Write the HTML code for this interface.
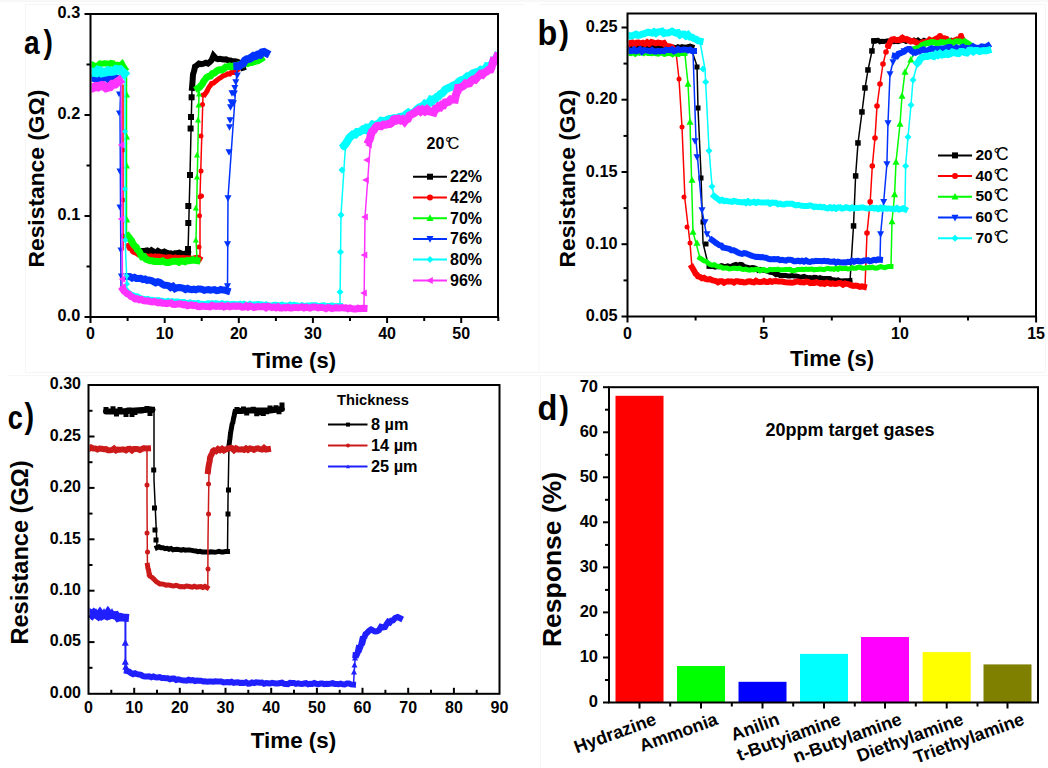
<!DOCTYPE html>
<html><head><meta charset="utf-8"><title>Figure</title>
<style>html,body{margin:0;padding:0;background:#fff;} svg{display:block;} text{font-family:'Liberation Sans', sans-serif;}</style>
</head><body>
<svg width="1048" height="768" viewBox="0 0 1048 768">
<defs><clipPath id="clipA"><rect x="91.5" y="15" width="405.5" height="301"/></clipPath><clipPath id="clipB"><rect x="628.5" y="14.5" width="406.5" height="301"/></clipPath><clipPath id="clipC"><rect x="89.5" y="386" width="409" height="306.5"/></clipPath></defs>
<rect x="0" y="0" width="1048" height="768" fill="#fff"/>
<rect x="0" y="0" width="1048" height="2" fill="#f8f8f8"/>
<line x1="25" y1="4.5" x2="525" y2="4.5" stroke="#f5f5f5" stroke-width="1"/>
<line x1="25.5" y1="5" x2="25.5" y2="372" stroke="#f6f6f6" stroke-width="1"/>
<line x1="539" y1="20" x2="539" y2="372" stroke="#f5f5f5" stroke-width="1"/>
<line x1="540" y1="4.5" x2="1045" y2="4.5" stroke="#f5f5f5" stroke-width="1"/>
<line x1="1045.5" y1="5" x2="1045.5" y2="372" stroke="#f5f5f5" stroke-width="1"/>
<line x1="25" y1="372.5" x2="1045" y2="372.5" stroke="#f5f5f5" stroke-width="1"/>
<line x1="7" y1="375.5" x2="1048" y2="375.5" stroke="#f7f7f7" stroke-width="1"/>
<line x1="540.5" y1="376" x2="540.5" y2="768" stroke="#f5f5f5" stroke-width="1"/>
<line x1="90.5" y1="317" x2="90.5" y2="323" stroke="#000" stroke-width="2"/>
<text x="90.5" y="339" font-size="16" font-weight="bold" text-anchor="middle" fill="#000" >0</text>
<line x1="127.6" y1="317" x2="127.6" y2="321" stroke="#000" stroke-width="2"/>
<line x1="164.7" y1="317" x2="164.7" y2="323" stroke="#000" stroke-width="2"/>
<text x="164.7" y="339" font-size="16" font-weight="bold" text-anchor="middle" fill="#000" >10</text>
<line x1="201.7" y1="317" x2="201.7" y2="321" stroke="#000" stroke-width="2"/>
<line x1="238.8" y1="317" x2="238.8" y2="323" stroke="#000" stroke-width="2"/>
<text x="238.8" y="339" font-size="16" font-weight="bold" text-anchor="middle" fill="#000" >20</text>
<line x1="275.9" y1="317" x2="275.9" y2="321" stroke="#000" stroke-width="2"/>
<line x1="312.9" y1="317" x2="312.9" y2="323" stroke="#000" stroke-width="2"/>
<text x="312.9" y="339" font-size="16" font-weight="bold" text-anchor="middle" fill="#000" >30</text>
<line x1="350" y1="317" x2="350" y2="321" stroke="#000" stroke-width="2"/>
<line x1="387.1" y1="317" x2="387.1" y2="323" stroke="#000" stroke-width="2"/>
<text x="387.1" y="339" font-size="16" font-weight="bold" text-anchor="middle" fill="#000" >40</text>
<line x1="424.2" y1="317" x2="424.2" y2="321" stroke="#000" stroke-width="2"/>
<line x1="461.2" y1="317" x2="461.2" y2="323" stroke="#000" stroke-width="2"/>
<text x="461.2" y="339" font-size="16" font-weight="bold" text-anchor="middle" fill="#000" >50</text>
<line x1="498.3" y1="317" x2="498.3" y2="321" stroke="#000" stroke-width="2"/>
<line x1="90.5" y1="317" x2="84.5" y2="317" stroke="#000" stroke-width="2"/>
<text x="80.2" y="321.4" font-size="16.3" font-weight="bold" text-anchor="end" fill="#000" >0.0</text>
<line x1="90.5" y1="266.5" x2="86.5" y2="266.5" stroke="#000" stroke-width="2"/>
<line x1="90.5" y1="216" x2="84.5" y2="216" stroke="#000" stroke-width="2"/>
<text x="80.2" y="220.4" font-size="16.3" font-weight="bold" text-anchor="end" fill="#000" >0.1</text>
<line x1="90.5" y1="165.5" x2="86.5" y2="165.5" stroke="#000" stroke-width="2"/>
<line x1="90.5" y1="115" x2="84.5" y2="115" stroke="#000" stroke-width="2"/>
<text x="80.2" y="119.4" font-size="16.3" font-weight="bold" text-anchor="end" fill="#000" >0.2</text>
<line x1="90.5" y1="64.5" x2="86.5" y2="64.5" stroke="#000" stroke-width="2"/>
<line x1="90.5" y1="14" x2="84.5" y2="14" stroke="#000" stroke-width="2"/>
<text x="80.2" y="18.4" font-size="16.3" font-weight="bold" text-anchor="end" fill="#000" >0.3</text>
<text x="294" y="367.5" font-size="22" font-weight="bold" text-anchor="middle" fill="#000" >Time (s)</text>
<text x="0" y="0" font-size="22.8" font-weight="bold" text-anchor="middle" fill="#000" transform="translate(44,178.5) rotate(-90)">Resistance (G&#937;)</text>
<text x="0" y="0" font-size="33.3" font-weight="bold" fill="#000" transform="translate(23.96,53.60) scale(0.844,1)">a</text>
<text x="0" y="0" font-size="33.9" font-weight="bold" fill="#000" transform="translate(43.60,52.60) scale(0.830,1)">)</text>
<g clip-path="url(#clipA)">
<path d="M143,250.9 L145.1,250.8 L147.2,250.4 L149.4,252.3 L151.5,250.3 L153.6,251.6 L155.8,252.7 L157.9,250.9 L160,252.1 L162.1,252.6 L164.3,251.5 L166.4,252.6 L168.6,253.6 L170.7,253.3 L172.9,254.3 L175,253.2 L177.2,253.2 L179.3,252.7 L181.5,253.5 L183.7,254.4 L185.8,253.4 L188,253.7" fill="none" stroke="#000000" stroke-width="6" stroke-linejoin="miter" stroke-miterlimit="2" stroke-linecap="square"/>
<path d="M188,253 L190,175 L192,88" fill="none" stroke="#000000" stroke-width="1.5" stroke-linejoin="round" stroke-linecap="round" />
<rect x="185.3" y="203" width="6" height="6" fill="#000000"/>
<rect x="185.3" y="220" width="6" height="6" fill="#000000"/>
<rect x="185" y="246" width="6" height="6" fill="#000000"/>
<rect x="187" y="172" width="6" height="6" fill="#000000"/>
<rect x="187.6" y="125.5" width="6" height="6" fill="#000000"/>
<rect x="188" y="114" width="6" height="6" fill="#000000"/>
<rect x="188.6" y="94.3" width="6" height="6" fill="#000000"/>
<path d="M192,87.9 L192.2,85.9 L192.3,84.2 L192.5,81.5 L192.7,79.3 L192.8,77.3 L193,74.6 L193.5,73 L194,71.2 L194.5,69.4 L195,66.5 L197,65.3 L199,63.5 L201.2,64.1 L203.5,63.7 L205.8,62.7 L208,63.6 L209.8,62.1 L211.5,60.2 L212.5,58.1 L213.5,55.6 L216,58.4 L218,59.2 L220,58.9 L222,59.2 L224,59.5 L226,59.4 L228.2,60.3 L230.4,60.5 L232.6,61.3 L234.8,61.2 L237,61.7 L239.5,62.7 L242,64.2 L242.5,65.9 L243,67.7" fill="none" stroke="#000000" stroke-width="6" stroke-linejoin="miter" stroke-miterlimit="2" stroke-linecap="square"/>
<path d="M123,85 L123,250" fill="none" stroke="#ff0000" stroke-width="1.5" stroke-linejoin="round" stroke-linecap="round" />
<circle cx="123" cy="150" r="2.5" fill="#ff0000"/>
<circle cx="123" cy="200" r="2.5" fill="#ff0000"/>
<circle cx="123" cy="236" r="2.5" fill="#ff0000"/>
<path d="M128,245.6 L129.5,248.4 L131,249 L132.5,251.5 L134,252.4 L136.2,253.2 L138.4,254.9 L140.6,254.4 L142.8,255.6 L145,255.9 L147,256 L149,256.2 L151,255.9 L153,256.9 L155,255.9 L157,256.2 L159,256 L161,256.5 L163,256.8 L165,257.6 L167,256.9 L169,256.7 L171,257 L173,258.1 L175,256.9 L177.1,257.7 L179.2,257.4 L181.2,257.9 L183.3,257.4 L185.4,258 L187.5,257.7 L189.6,258 L191.7,258.4 L193.8,258 L195.8,257.4 L197.9,257.3 L200,258.6" fill="none" stroke="#ff0000" stroke-width="5" stroke-linejoin="miter" stroke-miterlimit="2" stroke-linecap="square"/>
<path d="M200,258 L200,196 L203,95" fill="none" stroke="#ff0000" stroke-width="1.5" stroke-linejoin="round" stroke-linecap="round" />
<circle cx="198.8" cy="260.6" r="2.5" fill="#ff0000"/>
<circle cx="199" cy="247" r="2.5" fill="#ff0000"/>
<circle cx="199.5" cy="215.8" r="2.5" fill="#ff0000"/>
<circle cx="200" cy="196.7" r="2.5" fill="#ff0000"/>
<circle cx="201.5" cy="196" r="2.5" fill="#ff0000"/>
<circle cx="201" cy="171" r="2.5" fill="#ff0000"/>
<circle cx="201" cy="136" r="2.5" fill="#ff0000"/>
<circle cx="202.5" cy="104.6" r="2.5" fill="#ff0000"/>
<circle cx="203" cy="95" r="2.5" fill="#ff0000"/>
<path d="M204.8,94.4 L205.9,92.9 L207,91.2 L208.2,88.6 L209.3,86.6 L210.4,85.4 L211.5,83.5 L213.4,83.1 L215.3,81.5 L217.2,80 L219.1,78.6 L221,77.5 L223.2,75.7 L225.4,75.2 L227.6,73.8 L229.8,74.1 L232,71.8 L234.5,72.3 L237,70.3" fill="none" stroke="#ff0000" stroke-width="5" stroke-linejoin="miter" stroke-miterlimit="2" stroke-linecap="square"/>
<path d="M93,65 L95.3,66.2 L97.7,65.4 L100,63.4 L102.3,63.7 L104.7,63.2 L107,63.4 L109,64.3 L111,62.9 L113,63.3 L115,65.9 L117.3,64.8 L119.7,65.7 L122,63.7 L123.5,66.4 L125,68.6" fill="none" stroke="#00ff00" stroke-width="6" stroke-linejoin="miter" stroke-miterlimit="2" stroke-linecap="square"/>
<path d="M126.5,70 L126.5,238" fill="none" stroke="#00ff00" stroke-width="1.5" stroke-linejoin="round" stroke-linecap="round" />
<path d="M127,91.7 L130,97.4 L124,97.4Z" fill="#00ff00"/>
<path d="M127,133.7 L130,139.4 L124,139.4Z" fill="#00ff00"/>
<path d="M127,162.7 L130,168.4 L124,168.4Z" fill="#00ff00"/>
<path d="M127.3,216.7 L130.3,222.4 L124.3,222.4Z" fill="#00ff00"/>
<path d="M128,236.1 L129.2,237.6 L130.3,239.5 L131.5,240.5 L132.7,243.2 L133.8,244.9 L135,246.2 L136.2,247.1 L137.3,249.4 L138.5,250.7 L139.7,252.3 L140.8,255.1 L142,256.8 L144,256.5 L146,259.1 L148,259.9 L150,260.8 L152.1,260.7 L154.2,261.4 L156.2,261.2 L158.3,261.6 L160.4,261.7 L162.5,260.9 L164.6,262 L166.7,262.4 L168.8,262.5 L170.8,262 L172.9,261.2 L175,261.2 L177,261.2 L179,262.3 L181,261.1 L183,261.1 L185,261.7 L187,260.6 L189,260.8 L191,260.4 L193,259.7 L195,260.3 L197,260.6" fill="none" stroke="#00ff00" stroke-width="7" stroke-linejoin="miter" stroke-miterlimit="2" stroke-linecap="square"/>
<path d="M197,258 L196,240 L199,92" fill="none" stroke="#00ff00" stroke-width="1.5" stroke-linejoin="round" stroke-linecap="round" />
<path d="M195.8,236.7 L198.8,242.4 L192.8,242.4Z" fill="#00ff00"/>
<path d="M195.8,204.7 L198.8,210.4 L192.8,210.4Z" fill="#00ff00"/>
<path d="M197,173.7 L200,179.4 L194,179.4Z" fill="#00ff00"/>
<path d="M197,151.7 L200,157.4 L194,157.4Z" fill="#00ff00"/>
<path d="M198,116.7 L201,122.4 L195,122.4Z" fill="#00ff00"/>
<path d="M198.5,101.7 L201.5,107.4 L195.5,107.4Z" fill="#00ff00"/>
<path d="M199,90.7 L202,96.4 L196,96.4Z" fill="#00ff00"/>
<path d="M198,88.2 L199.4,87.3 L200.9,85.6 L202.3,84.1 L203.8,81.1 L205.2,79.4 L206.7,77.5 L208.6,76.4 L210.5,76.1 L212.4,73.6 L214.4,73.1 L216.3,71.2 L218.2,70.1 L220.1,69.7 L222,69.9 L223.9,68.8 L225.8,67 L227.7,66.9 L229.6,66 L231.5,66.8 L233.4,66.1 L235.3,65.4 L237.4,65.1 L239.4,64.6 L241.5,64.7 L243.6,64 L245.6,62.6 L247.7,63.4 L249.7,62.4 L251.8,62.5 L253.9,61.8 L255.9,61.2 L258,60.7 L261,58.9" fill="none" stroke="#00ff00" stroke-width="7" stroke-linejoin="miter" stroke-miterlimit="2" stroke-linecap="square"/>
<path d="M93,78.3 L95.3,79.1 L97.7,78.7 L100,79.3 L102,79.1 L104,77.5 L106,77.1 L108,79.1 L110,77.4 L112,77.3 L114,79.3 L116,77.9 L118,78.9" fill="none" stroke="#0033ff" stroke-width="7" stroke-linejoin="miter" stroke-miterlimit="2" stroke-linecap="square"/>
<path d="M121,78 L120,110 L121,290" fill="none" stroke="#0033ff" stroke-width="1.5" stroke-linejoin="round" stroke-linecap="round" />
<path d="M119,97.3 L122,91.6 L116,91.6Z" fill="#0033ff"/>
<path d="M119,116.3 L122,110.6 L116,110.6Z" fill="#0033ff"/>
<path d="M119.5,174.3 L122.5,168.6 L116.5,168.6Z" fill="#0033ff"/>
<path d="M119.5,210.3 L122.5,204.6 L116.5,204.6Z" fill="#0033ff"/>
<path d="M120.5,253.3 L123.5,247.6 L117.5,247.6Z" fill="#0033ff"/>
<path d="M121,279.3 L124,273.6 L118,273.6Z" fill="#0033ff"/>
<path d="M128,276.6 L130.1,276.7 L132.2,278.1 L134.4,277.3 L136.5,278.6 L138.6,278.6 L140.8,278.4 L142.9,279.6 L145,279.1 L147.1,280.3 L149.3,280 L151.4,280.5 L153.6,281.6 L155.7,282.8 L157.9,281.8 L160,282.4 L162.1,284 L164.3,285.3 L166.4,285.3 L168.6,285.7 L170.7,287.5 L172.9,286.4 L175,288.7 L177.1,287.7 L179.2,287.6 L181.2,287.7 L183.3,288.3 L185.4,289.5 L187.5,288.4 L189.6,289.3 L191.7,289.6 L193.8,289.2 L195.8,289.8 L197.9,289 L200,289.1 L202.1,289.4 L204.2,290.4 L206.2,289.9 L208.3,289.6 L210.4,290.2 L212.5,289.9 L214.5,289.6 L216.6,290.6 L218.7,290.4 L220.8,289.5 L222.8,290.1 L224.9,290.1 L227,290.8" fill="none" stroke="#0033ff" stroke-width="7" stroke-linejoin="miter" stroke-miterlimit="2" stroke-linecap="square"/>
<path d="M227.5,290 L228,198 L237,70" fill="none" stroke="#0033ff" stroke-width="1.5" stroke-linejoin="round" stroke-linecap="round" />
<path d="M227.5,289.9 L231,283.2 L224,283.2Z" fill="#0033ff"/>
<path d="M227.5,247.8 L231,241.2 L224,241.2Z" fill="#0033ff"/>
<path d="M228,201.8 L231.5,195.2 L224.5,195.2Z" fill="#0033ff"/>
<path d="M229,155.8 L232.5,149.2 L225.5,149.2Z" fill="#0033ff"/>
<path d="M229.5,130.8 L233,124.2 L226,124.2Z" fill="#0033ff"/>
<path d="M230,123.8 L233.5,117.2 L226.5,117.2Z" fill="#0033ff"/>
<path d="M230.5,110.8 L234,104.2 L227,104.2Z" fill="#0033ff"/>
<path d="M231,105.8 L234.5,99.2 L227.5,99.2Z" fill="#0033ff"/>
<path d="M232,96.8 L235.5,90.2 L228.5,90.2Z" fill="#0033ff"/>
<path d="M233.4,106.8 L236.9,100.2 L229.9,100.2Z" fill="#0033ff"/>
<path d="M234.3,97.2 L237.8,90.6 L230.8,90.6Z" fill="#0033ff"/>
<path d="M234.8,91.5 L238.3,84.9 L231.3,84.9Z" fill="#0033ff"/>
<path d="M235.8,85.8 L239.3,79.2 L232.3,79.2Z" fill="#0033ff"/>
<path d="M237.3,79.1 L240.8,72.5 L233.8,72.5Z" fill="#0033ff"/>
<path d="M237.3,66.1 L239.2,66 L241.2,64.4 L243.1,63.6 L245,60.5 L247.2,59.1 L249.4,58.9 L251.6,57.4 L253.7,55.8 L255.8,55.9 L257.9,54.5 L260,54.7 L262,52.4 L264,52 L266,53" fill="none" stroke="#0033ff" stroke-width="8" stroke-linejoin="miter" stroke-miterlimit="2" stroke-linecap="square"/>
<path d="M94,72.4 L96,72.7 L98,70.3 L100,70.8 L102,72.8 L104,72.4 L106,72 L108,70.8 L110,71.5 L112,71.3 L114,71 L116,69.5 L118,70 L120,69.7 L122,71.7 L124,73.5" fill="none" stroke="#00ffff" stroke-width="9" stroke-linejoin="miter" stroke-miterlimit="2" stroke-linecap="square"/>
<path d="M125,72 L125.5,250 L127,283" fill="none" stroke="#00ffff" stroke-width="1.5" stroke-linejoin="round" stroke-linecap="round" />
<path d="M125,128.5 L128,131.5 L125,134.5 L122,131.5Z" fill="#00ffff"/>
<path d="M125,186 L128,189 L125,192 L122,189Z" fill="#00ffff"/>
<path d="M125.3,237 L128.3,240 L125.3,243 L122.3,240Z" fill="#00ffff"/>
<path d="M126.5,273 L129.5,276 L126.5,279 L123.5,276Z" fill="#00ffff"/>
<path d="M127,281 L130,284 L127,287 L124,284Z" fill="#00ffff"/>
<path d="M125,289.1 L127,291.3 L129,293.4 L131,294.5 L133,295.3 L135,296.5 L137,296.4 L139.2,297.5 L141.3,298.5 L143.5,298.7 L145.7,299.5 L147.8,299 L150,300 L152,299.8 L154,300.3 L156,300.5 L158,300 L160,300.4 L162,300.6 L164,301.5 L166,301.4 L168,300.9 L170,301.8 L172,301.1 L174,301.8 L176,301.4 L178,301.4 L180,302.5 L182,301.9 L184,302 L186,303.1 L188,303.1 L190,302.5 L192,303.5 L194,303.1 L196,303.4 L198,303 L200,304 L202,303.8 L204,304.1 L206,304.1 L208,303.4 L210,303.5 L212,303.3 L214,303.4 L216,303.3 L218,303.6 L220,304 L222,303.3 L224,304.2 L226,303.8 L228,303.8 L230,304.5 L232,304.1 L234,304 L236,304.2 L238,304.5 L240,303.8 L242,304.9 L244,303.8 L246,304.7 L248,304.9 L250,303.9 L252,304.9 L254,304.4 L256,304.7 L258,304.1 L260,304.2 L262,304.4 L264,305.3 L266,304.5 L268,305.2 L270,305.4 L272,305.5 L274,304.8 L276,304.8 L278,305.1 L280,305.4 L282,304.7 L284,305.5 L286,305.6 L288,305.7 L290,304.7 L292,305.9 L294,304.9 L296,305.2 L298,305.6 L300,306 L302,305.3 L304,306.1 L306,305.6 L308,305.4 L310,305.4 L312,305.3 L314,305.2 L316,305.3 L318,306 L320,306.3 L322,305.4 L324,305.3 L326,306.4 L328,305.9 L330,305.8 L332,305.6 L334,306 L336,306.3 L338,305.9 L340,305.9" fill="none" stroke="#00ffff" stroke-width="6" stroke-linejoin="miter" stroke-miterlimit="2" stroke-linecap="square"/>
<path d="M340,304 L341,215 L346,138" fill="none" stroke="#00ffff" stroke-width="1.5" stroke-linejoin="round" stroke-linecap="round" />
<path d="M340,288.5 L343.5,292 L340,295.5 L336.5,292Z" fill="#00ffff"/>
<path d="M340.5,248.5 L344,252 L340.5,255.5 L337,252Z" fill="#00ffff"/>
<path d="M341,211.5 L344.5,215 L341,218.5 L337.5,215Z" fill="#00ffff"/>
<path d="M342,166.5 L345.5,170 L342,173.5 L338.5,170Z" fill="#00ffff"/>
<path d="M343,143.5 L346.5,147 L343,150.5 L339.5,147Z" fill="#00ffff"/>
<path d="M344.6,145 L345.9,143.4 L347.2,141.3 L348.4,139.4 L349.7,137.4 L351,136.1 L353.1,134.3 L355.1,134.5 L357.1,132 L359.2,132 L361.1,131 L363,129.4 L364.9,129.9 L366.7,127.7 L368.6,127.8 L370.5,127.2 L372.7,124.5 L374.8,125.4 L377,124.3 L379.2,123.2 L381.3,120.7 L383.5,121 L385.6,121 L387.7,119.7 L389.8,119 L391.8,118.8 L393.9,118.2 L396,119.1 L398.1,117.5 L400.1,116.9 L402.2,116.6 L404.2,116.6 L406.2,114.1 L408.2,112.7 L410.2,114.3 L412.3,113.1 L414.3,112.2 L416.1,110.4 L417.9,108.5 L419.7,107.2 L421.5,106.5 L423.4,105.9 L425.2,103.7 L427,104.3 L428.8,103.3 L430.6,100.3 L432.2,101.3 L433.8,99.2 L435.4,99.1 L437.1,96.7 L438.7,96.3 L440.3,94.2 L441.9,93.4 L443.5,91.9 L445.4,89.5 L447.2,88.7 L449.1,87.7 L450.9,87 L452.8,85.8 L454.6,85.1 L456.5,84.2 L458.4,82.2 L460.3,80.6 L462.2,79.8 L464.1,79.6 L466,77.8 L467.9,76.1 L470.2,75.9 L472.4,73.7 L474.7,72.7 L476.9,72 L479.2,71.4 L481.1,69.8 L483.1,70.2 L485,69.6 L487,66.3 L488.9,66.5 L490.5,65.5 L492.1,63.4 L493.8,60.2 L495.4,59.9 L497,56.4" fill="none" stroke="#00ffff" stroke-width="8" stroke-linejoin="miter" stroke-miterlimit="2" stroke-linecap="square"/>
<path d="M94,87.2 L96,86.5 L98,87 L100,86 L102,85.5 L104,86.3 L106,87.7 L108,87.1 L110,86.8 L112.5,84.2 L115,84.1 L117,82.3 L119,81" fill="none" stroke="#ff33ff" stroke-width="9" stroke-linejoin="miter" stroke-miterlimit="2" stroke-linecap="square"/>
<path d="M121,84 L121.5,130 L122.5,285" fill="none" stroke="#ff33ff" stroke-width="1.5" stroke-linejoin="round" stroke-linecap="round" />
<path d="M117.7,145 L124.3,141.5 L124.3,148.5Z" fill="#ff33ff"/>
<path d="M117.7,219 L124.3,215.5 L124.3,222.5Z" fill="#ff33ff"/>
<path d="M118.7,279 L125.3,275.5 L125.3,282.5Z" fill="#ff33ff"/>
<path d="M119.2,287 L125.8,283.5 L125.8,290.5Z" fill="#ff33ff"/>
<path d="M123,289.5 L124.3,291.2 L125.7,292.3 L127,293.6 L129,294.3 L131,296.5 L133,297.3 L135,298.9 L137.1,298.7 L139.3,299.8 L141.4,299.4 L143.6,300.7 L145.7,301 L147.9,300.9 L150,301.6 L152.1,302 L154.2,301.4 L156.2,302.2 L158.3,302.8 L160.4,302.2 L162.5,303.2 L164.6,303.3 L166.7,303.7 L168.8,303.1 L170.8,302.9 L172.9,304.3 L175,304.5 L177.1,304.1 L179.2,303.7 L181.2,304 L183.3,304.9 L185.4,304.5 L187.5,305.7 L189.6,305.3 L191.7,304.9 L193.8,305.7 L195.8,305.4 L197.9,306.5 L200,306.7 L202,306.1 L204,306.3 L206,306.4 L208,306.6 L210,306.9 L212,305.4 L214,306 L216,306.4 L218,306 L220,306.4 L222,305.7 L224,307 L226,306.4 L228,305.8 L230,306.7 L232,306.2 L234,306 L236,306.5 L238,306 L240,306.1 L242,307.2 L244,307 L246,305.9 L248,307.2 L250,306 L252,306.5 L254,307.5 L256,307 L258,306.6 L260,306.7 L262,306.8 L264,306.4 L266,307.8 L268,306.3 L270,306.9 L272,307.5 L274,306.9 L276,307.9 L278,306.8 L280,308 L282,307.9 L284,307.5 L286,307.9 L288,307.2 L290,307.9 L292,307.9 L294,307.4 L296,307.4 L298,307.8 L300,307.4 L302,306.9 L304,308 L306,307.2 L308,307.6 L310,308.1 L312,307.2 L314,307 L316,307.1 L318,307.9 L320,307.6 L322,307.5 L324,307.8 L326,308.6 L328,307.5 L330,307.8 L332,308.6 L334,308.2 L336,307.7 L338,308.1 L340,308.1 L342,307.6 L344,308 L346,307.9 L348,308.7 L350,308 L352,308.6 L354,309.1 L356,309.1 L358,308.2 L360,308.6 L362,308.2 L364,308.3" fill="none" stroke="#ff33ff" stroke-width="7" stroke-linejoin="miter" stroke-miterlimit="2" stroke-linecap="square"/>
<path d="M364,309 L365,217 L371,135" fill="none" stroke="#ff33ff" stroke-width="1.5" stroke-linejoin="round" stroke-linecap="round" />
<path d="M360.1,293 L366.8,289.5 L366.8,296.5Z" fill="#ff33ff"/>
<path d="M360.6,255 L367.3,251.5 L367.3,258.5Z" fill="#ff33ff"/>
<path d="M361.1,217 L367.8,213.5 L367.8,220.5Z" fill="#ff33ff"/>
<path d="M362.1,180 L368.8,176.5 L368.8,183.5Z" fill="#ff33ff"/>
<path d="M363.1,160 L369.8,156.5 L369.8,163.5Z" fill="#ff33ff"/>
<path d="M365.1,145 L371.8,141.5 L371.8,148.5Z" fill="#ff33ff"/>
<path d="M369,140.7 L369.6,139.5 L370.2,138 L370.8,134.3 L371.4,133.6 L372,131.5 L373.7,130.2 L375.4,127.5 L377,126 L378.7,125.7 L381.1,126.2 L383.5,124.5 L386,124.7 L388.4,123.8 L390,123.9 L391.6,122.9 L393.3,120.2 L394.9,120.5 L396.5,116.8 L398.5,119.5 L400.6,120.5 L402.6,119.4 L404.6,121.6 L406.2,119.6 L407.8,119 L409.5,115.5 L411.1,114.7 L412.7,114 L414.7,112.7 L416.6,111.2 L418.6,109.9 L420.5,111.5 L422.5,109.6 L424.8,111.3 L427,109.4 L429.3,111.5 L431.5,111.9 L433.8,112.5 L435.4,108.9 L437.1,108.6 L438.7,106.6 L440.3,107.2 L441.9,104.9 L443.6,105.2 L445.2,102.5 L446.8,102.3 L448.8,101.8 L450.9,99.3 L452.9,99.3 L454.9,99.6 L455.5,96.5 L456.2,94.2 L456.8,92 L457.5,91.4 L458.1,87.9 L460,87.9 L461.9,86.7 L463.8,85.6 L465.7,83.4 L467.6,83.7 L469.5,83.3 L471.4,80.6 L473.2,79.4 L475.1,79.8 L476.9,77.8 L478.8,75.8 L480.6,74 L482.5,74.8 L484.5,72.5 L486.6,71.6 L488.6,69.8 L490.6,69.5 L491.4,67.8 L492.2,64.7 L493,62 L493.8,62.4 L495.4,60.5 L497,56.6" fill="none" stroke="#ff33ff" stroke-width="8" stroke-linejoin="miter" stroke-miterlimit="2" stroke-linecap="square"/>
</g>
<text x="426.5" y="148.5" font-size="16" font-weight="bold" text-anchor="start" fill="#000" >20</text>
<text x="445" y="148.5" font-size="17" font-weight="normal" fill="#000">&#176;</text>
<text x="447.5" y="148.5" font-size="16.5" font-weight="normal" text-anchor="start" fill="#000" >C</text>
<line x1="413" y1="176.7" x2="447" y2="176.7" stroke="#000000" stroke-width="2"/>
<rect x="427" y="173.7" width="6" height="6" fill="#000000"/>
<text x="450" y="182.2" font-size="16" font-weight="bold" text-anchor="start" fill="#000" >22%</text>
<line x1="413" y1="197.4" x2="447" y2="197.4" stroke="#ff0000" stroke-width="2"/>
<circle cx="430" cy="197.4" r="3" fill="#ff0000"/>
<text x="450" y="202.9" font-size="16" font-weight="bold" text-anchor="start" fill="#000" >42%</text>
<line x1="413" y1="218.2" x2="447" y2="218.2" stroke="#00ff00" stroke-width="2"/>
<path d="M430,214.3 L433.5,221 L426.5,221Z" fill="#00ff00"/>
<text x="450" y="223.7" font-size="16" font-weight="bold" text-anchor="start" fill="#000" >70%</text>
<line x1="413" y1="238.9" x2="447" y2="238.9" stroke="#0033ff" stroke-width="2"/>
<path d="M430,242.7 L433.5,236.1 L426.5,236.1Z" fill="#0033ff"/>
<text x="450" y="244.4" font-size="16" font-weight="bold" text-anchor="start" fill="#000" >76%</text>
<line x1="413" y1="259.6" x2="447" y2="259.6" stroke="#00ffff" stroke-width="2"/>
<path d="M430,256.1 L433.5,259.6 L430,263.1 L426.5,259.6Z" fill="#00ffff"/>
<text x="450" y="265.1" font-size="16" font-weight="bold" text-anchor="start" fill="#000" >80%</text>
<line x1="413" y1="280.4" x2="447" y2="280.4" stroke="#ff33ff" stroke-width="2"/>
<path d="M426.1,280.4 L432.8,276.9 L432.8,283.9Z" fill="#ff33ff"/>
<text x="450" y="285.9" font-size="16" font-weight="bold" text-anchor="start" fill="#000" >96%</text>
<line x1="627.5" y1="316.5" x2="627.5" y2="322.5" stroke="#000" stroke-width="2"/>
<text x="627.5" y="338.5" font-size="16" font-weight="bold" text-anchor="middle" fill="#000" >0</text>
<line x1="695.6" y1="316.5" x2="695.6" y2="320.5" stroke="#000" stroke-width="2"/>
<line x1="763.7" y1="316.5" x2="763.7" y2="322.5" stroke="#000" stroke-width="2"/>
<text x="763.7" y="338.5" font-size="16" font-weight="bold" text-anchor="middle" fill="#000" >5</text>
<line x1="831.8" y1="316.5" x2="831.8" y2="320.5" stroke="#000" stroke-width="2"/>
<line x1="899.9" y1="316.5" x2="899.9" y2="322.5" stroke="#000" stroke-width="2"/>
<text x="899.9" y="338.5" font-size="16" font-weight="bold" text-anchor="middle" fill="#000" >10</text>
<line x1="968" y1="316.5" x2="968" y2="320.5" stroke="#000" stroke-width="2"/>
<line x1="1036.1" y1="316.5" x2="1036.1" y2="322.5" stroke="#000" stroke-width="2"/>
<text x="1036.1" y="338.5" font-size="16" font-weight="bold" text-anchor="middle" fill="#000" >15</text>
<line x1="627.5" y1="316.5" x2="621.5" y2="316.5" stroke="#000" stroke-width="2"/>
<text x="617.5" y="321.1" font-size="16.3" font-weight="bold" text-anchor="end" fill="#000" >0.05</text>
<line x1="627.5" y1="280.4" x2="623.5" y2="280.4" stroke="#000" stroke-width="2"/>
<line x1="627.5" y1="244.2" x2="621.5" y2="244.2" stroke="#000" stroke-width="2"/>
<text x="617.5" y="248.8" font-size="16.3" font-weight="bold" text-anchor="end" fill="#000" >0.10</text>
<line x1="627.5" y1="208.1" x2="623.5" y2="208.1" stroke="#000" stroke-width="2"/>
<line x1="627.5" y1="172" x2="621.5" y2="172" stroke="#000" stroke-width="2"/>
<text x="617.5" y="176.6" font-size="16.3" font-weight="bold" text-anchor="end" fill="#000" >0.15</text>
<line x1="627.5" y1="135.9" x2="623.5" y2="135.9" stroke="#000" stroke-width="2"/>
<line x1="627.5" y1="99.7" x2="621.5" y2="99.7" stroke="#000" stroke-width="2"/>
<text x="617.5" y="104.3" font-size="16.3" font-weight="bold" text-anchor="end" fill="#000" >0.20</text>
<line x1="627.5" y1="63.6" x2="623.5" y2="63.6" stroke="#000" stroke-width="2"/>
<line x1="627.5" y1="27.5" x2="621.5" y2="27.5" stroke="#000" stroke-width="2"/>
<text x="617.5" y="32.1" font-size="16.3" font-weight="bold" text-anchor="end" fill="#000" >0.25</text>
<text x="832" y="366" font-size="22" font-weight="bold" text-anchor="middle" fill="#000" >Time (s)</text>
<text x="0" y="0" font-size="22.8" font-weight="bold" text-anchor="middle" fill="#000" transform="translate(574.5,178.5) rotate(-90)">Resistance (G&#937;)</text>
<text x="0" y="0" font-size="34.4" font-weight="bold" fill="#000" transform="translate(537.50,44.50) scale(0.940,1)">b</text>
<text x="0" y="0" font-size="33.9" font-weight="bold" fill="#000" transform="translate(559.00,43.60) scale(0.880,1)">)</text>
<g clip-path="url(#clipB)">
<path d="M628,47.8 L630,47.9 L632,47.8 L634,46.2 L636,47.2 L638,46.8 L640,47.1 L642,46.3 L644,46.4 L646,46.9 L648,46.4 L650,46.9 L652,46 L654,46.2 L656,47.4 L658,46.8 L660,47 L662,47.5 L664,46.7 L666,46.1 L668,47.6 L670,47.2 L672,47.3 L674,47.2 L676,47.9 L678,46.7 L680,47.5 L682,46.7 L684,47.1 L686,47.3 L688,46.6 L690,46.2 L692,46.9" fill="none" stroke="#000000" stroke-width="5" stroke-linejoin="miter" stroke-miterlimit="2" stroke-linecap="square"/>
<path d="M691,48 L697,66 L698,108 L701,174 L703,243 L709,268" fill="none" stroke="#000000" stroke-width="1.5" stroke-linejoin="round" stroke-linecap="round" />
<rect x="694.5" y="64.5" width="5" height="5" fill="#000000"/>
<rect x="695.5" y="105.5" width="5" height="5" fill="#000000"/>
<rect x="698.5" y="175.5" width="5" height="5" fill="#000000"/>
<rect x="700.5" y="219.5" width="5" height="5" fill="#000000"/>
<rect x="703.5" y="241.5" width="5" height="5" fill="#000000"/>
<path d="M709,266.3 L711.1,266.4 L713.1,266.4 L715.2,267.2 L717.3,266.5 L719.3,266.7 L721.4,265.6 L723.5,266.1 L725.5,266.5 L727.6,265.8 L729.7,266.4 L731.7,266.1 L733.8,265.2 L735.9,264.5 L737.9,265.5 L740,264.4 L742,264.7 L744,266.4 L746,267 L748,267.5 L750,268.2 L752,267.5 L754,267.8 L756,268.4 L758,270.3 L760,269.4 L762,270 L764,270.2 L766,270.8 L768,271.3 L770,272.3 L772,272.5 L774,273.2 L776,274.7 L778,274 L780,275.5 L782,275.6 L784,275.5 L786,275.6 L788,276.1 L790,276 L792,275.6 L794,275.9 L796,276 L798,276.4 L800,277.5 L802,276.8 L804,276.4 L806,277.2 L808,277.9 L810,277.5 L812,278.1 L814,277.3 L816,277.4 L818,278.5 L820,277.7 L822,278.3 L824,278.6 L826,278.5 L828,278.4 L830,278.5 L832,280.2 L834,279.9 L836,280.5 L838,280 L840,280.9 L842,280.9 L844,280.7 L846,280.7 L848,280.8 L850,280.6" fill="none" stroke="#000000" stroke-width="5" stroke-linejoin="miter" stroke-miterlimit="2" stroke-linecap="square"/>
<path d="M850,281 L853.5,226 L855.6,176 L858,143 L862,112 L865,88 L868,70 L872,51 L874,41" fill="none" stroke="#000000" stroke-width="1.5" stroke-linejoin="round" stroke-linecap="round" />
<rect x="850.8" y="223.2" width="5.5" height="5.5" fill="#000000"/>
<rect x="852.9" y="173.2" width="5.5" height="5.5" fill="#000000"/>
<rect x="855.2" y="140.2" width="5.5" height="5.5" fill="#000000"/>
<rect x="859.2" y="109.2" width="5.5" height="5.5" fill="#000000"/>
<rect x="862.2" y="85.2" width="5.5" height="5.5" fill="#000000"/>
<rect x="865.2" y="67.2" width="5.5" height="5.5" fill="#000000"/>
<rect x="869.2" y="48.2" width="5.5" height="5.5" fill="#000000"/>
<rect x="871.2" y="38.2" width="5.5" height="5.5" fill="#000000"/>
<path d="M874,40.8 L876,40.5 L878,40.3 L880,41.8 L882,41.2 L884,41.4 L886,41.1 L888,40.8 L890,41.5 L892,41.2 L894,41.6 L896,41.3 L898,41.7 L900,40.9 L902,40.3 L904,40.3 L906,41.4 L908,40.3 L910,41.3 L912,41.2 L914,40.1 L916,41.6 L918,40.1 L920,41.7 L922,41.7 L924,40.4 L926,41.5 L928,41.5 L930,40.3 L932.1,41.3 L934.2,40.2 L936.3,41.8 L938.4,41.4 L940.5,42 L942.5,40.1 L944.6,40.6 L946.7,41.2 L948.8,41.2 L950.9,40.4 L953,41.8" fill="none" stroke="#000000" stroke-width="5" stroke-linejoin="miter" stroke-miterlimit="2" stroke-linecap="square"/>
<path d="M628,45.1 L630.1,43 L632.2,42.6 L634.4,44.8 L636.5,42.7 L638.6,42.5 L640.8,43.6 L642.9,42.8 L645,43.9 L647.1,42.2 L649.3,43.8 L651.4,42.1 L653.6,42.7 L655.7,43.3 L657.9,42.6 L660,43 L662,43.5 L664,42.9 L666,45.9 L668,46.2 L670,46.5 L672,47.3 L674,49.8 L676,50.2" fill="none" stroke="#ff0000" stroke-width="6" stroke-linejoin="miter" stroke-miterlimit="2" stroke-linecap="square"/>
<path d="M676,52 L679,79 L682,127 L685,200 L690,243 L692,268" fill="none" stroke="#ff0000" stroke-width="1.5" stroke-linejoin="round" stroke-linecap="round" />
<circle cx="679" cy="79" r="2.5" fill="#ff0000"/>
<circle cx="682" cy="127" r="2.5" fill="#ff0000"/>
<circle cx="684" cy="197" r="2.5" fill="#ff0000"/>
<circle cx="687" cy="227" r="2.5" fill="#ff0000"/>
<circle cx="690" cy="243" r="2.5" fill="#ff0000"/>
<path d="M692,267.2 L693.2,269.2 L694.4,271.4 L695.6,273.7 L696.8,274.6 L698,276.4 L700,277 L702,278.3 L704,277.8 L706,279.2 L708,279.5 L710,279.1 L712,280.2 L714,280.6 L716,281 L718,282.3 L720,281.3 L722,281.2 L724,282.7 L726,281.8 L728,281.4 L730,281.6 L732,281.6 L734,282.6 L736,281.3 L738,281.3 L740,281.9 L742,281.8 L744,282.4 L746,282.2 L748,281.4 L750,281.2 L752,282.1 L754,282.4 L756,280.8 L758,281.9 L760,282.1 L762,281.8 L764,281.1 L766,282 L768,282 L770,281.1 L772,281.9 L774,281.2 L776,281 L778,281.5 L780,281.5 L782,281.6 L784,282 L786,282.4 L788,282.6 L790,282.6 L792,282.7 L794,282.4 L796,281.6 L798,281.5 L800,282.2 L802,282.2 L804.1,282.5 L806.1,281.6 L808.2,281.9 L810.2,283.1 L812.3,282.7 L814.3,282.9 L816.4,282.1 L818.4,282.7 L820.5,283.6 L822.5,283.2 L824.5,283.9 L826.6,282.7 L828.6,283.2 L830.7,283.8 L832.7,283.4 L834.8,284 L836.8,283.7 L838.9,283.1 L840.9,283.2 L843,284.7 L845,283.4 L847.1,283.8 L849.2,284.4 L851.3,285.3 L853.4,285.9 L855.6,285.6 L857.7,286 L859.8,286.8 L861.9,286.3 L864,286.8" fill="none" stroke="#ff0000" stroke-width="6" stroke-linejoin="miter" stroke-miterlimit="2" stroke-linecap="square"/>
<path d="M865,287 L867,233 L870.2,201.7 L872.3,166 L875,138 L877,106 L880,84 L883,64 L886,52 L889,45" fill="none" stroke="#ff0000" stroke-width="1.5" stroke-linejoin="round" stroke-linecap="round" />
<circle cx="867" cy="233" r="2.8" fill="#ff0000"/>
<circle cx="870.2" cy="201.7" r="2.8" fill="#ff0000"/>
<circle cx="872.3" cy="166" r="2.8" fill="#ff0000"/>
<circle cx="875" cy="138" r="2.8" fill="#ff0000"/>
<circle cx="877" cy="106" r="2.8" fill="#ff0000"/>
<circle cx="880" cy="84" r="2.8" fill="#ff0000"/>
<circle cx="883" cy="64" r="2.8" fill="#ff0000"/>
<circle cx="886" cy="52" r="2.8" fill="#ff0000"/>
<path d="M888.7,45.3 L890.4,41.4 L892,39.5 L894.1,39.1 L896.3,40.2 L898.4,39.8 L900.6,40.1 L902.7,38 L904.7,39.4 L906.8,39.1 L908.8,40.2 L910.8,41.5 L913.1,40.9 L915.4,41.9 L917.7,43.5 L920,43.8 L922.4,42.4 L924.8,42.6 L927.1,42.4 L929.5,39.8 L931.6,41.1 L933.7,40.3 L935.8,38.8 L937.9,37.8 L940,39.1 L942.2,38.2 L944.3,38.2 L946.5,38.8 L948.6,41.2 L950.8,41.2 L952.9,41.1 L955.1,40.4 L957.2,39.3 L959.4,39.7 L961.5,37.7 L963,40.1" fill="none" stroke="#ff0000" stroke-width="6" stroke-linejoin="miter" stroke-miterlimit="2" stroke-linecap="square"/>
<circle cx="888" cy="46" r="3" fill="#ff0000"/>
<circle cx="892" cy="40" r="3" fill="#ff0000"/>
<circle cx="902" cy="38" r="3" fill="#ff0000"/>
<circle cx="908" cy="40" r="3" fill="#ff0000"/>
<circle cx="940" cy="36" r="3" fill="#ff0000"/>
<circle cx="961" cy="36" r="3" fill="#ff0000"/>
<circle cx="925" cy="42" r="3" fill="#ff0000"/>
<path d="M629,53.4 L631.1,53.7 L633.2,52.4 L635.3,54 L637.4,52.4 L639.5,53.3 L641.6,52.2 L643.7,53.5 L645.8,52.3 L647.9,53.4 L650,53.4 L652.1,53.6 L654.1,53 L656.2,53.9 L658.2,54.2 L660.3,52.5 L662.4,53.4 L664.4,54.3 L666.5,53.9 L668.5,53.4 L670.6,53.2 L672.6,54.6 L674.7,52.9 L676.8,54.3 L678.8,54.5 L680.9,53.2 L682.9,53.6 L685,53.6" fill="none" stroke="#00ff00" stroke-width="5" stroke-linejoin="miter" stroke-miterlimit="2" stroke-linecap="square"/>
<path d="M685,55 L688,84 L690,122 L693,232 L700,258" fill="none" stroke="#00ff00" stroke-width="1.5" stroke-linejoin="round" stroke-linecap="round" />
<path d="M688,80.2 L691.5,86.8 L684.5,86.8Z" fill="#00ff00"/>
<path d="M690,118.2 L693.5,124.8 L686.5,124.8Z" fill="#00ff00"/>
<path d="M692,176.2 L695.5,182.8 L688.5,182.8Z" fill="#00ff00"/>
<path d="M693,228.2 L696.5,234.8 L689.5,234.8Z" fill="#00ff00"/>
<path d="M697,239.2 L700.5,245.8 L693.5,245.8Z" fill="#00ff00"/>
<path d="M700,258.1 L702,259.4 L704,260.9 L706,261.2 L708,263 L710,264.6 L712.1,265.2 L714.3,264.6 L716.4,266 L718.6,266.5 L720.7,266.9 L722.9,268.2 L725,268 L727.1,268 L729.1,268.9 L731.2,268.6 L733.2,268.2 L735.3,268.3 L737.4,268.7 L739.4,268.1 L741.5,269.1 L743.5,269.4 L745.6,269.1 L747.6,269.8 L749.7,270.1 L751.8,269.6 L753.8,269.9 L755.9,269.2 L757.9,269.2 L760,270.8 L762,269.7 L764,269.5 L766,270.6 L768,270.4 L770,269.4 L772,269.7 L774,269.6 L776,269.6 L778,269.2 L780,270 L782,269.7 L784,269.8 L786,269.5 L788,269.4 L790,269.3 L792,270.6 L794,270.4 L796,270.1 L798,269.4 L800,269.4 L802,269.3 L804,269.6 L806,269.1 L808,269.4 L810,269.2 L812,269.1 L814,269.8 L816,269.4 L818,269.4 L820,269.1 L822,269.3 L824,269.7 L826,268.8 L828,268.4 L830,269 L832,268.7 L834,269.3 L836,268.2 L838,269.3 L840,267.9 L842,268.7 L844,268.4 L846,268.2 L848,269 L850,268.7 L852,267.7 L854,268.2 L856,268.3 L858,267.3 L860,267.3 L862.1,268.1 L864.1,268.2 L866.2,267.7 L868.3,267.6 L870.3,267.7 L872.4,267.2 L874.5,268.1 L876.5,268.2 L878.6,267.4 L880.7,266.6 L882.7,267.1 L884.8,267.7 L886.9,266.9 L888.9,266.4 L891,266.5" fill="none" stroke="#00ff00" stroke-width="5" stroke-linejoin="miter" stroke-miterlimit="2" stroke-linecap="square"/>
<path d="M891,267 L892,221.5 L894.6,194.4 L896,162 L900,124 L902,96 L905,72 L910.8,59.7 L917.4,47.7" fill="none" stroke="#00ff00" stroke-width="1.5" stroke-linejoin="round" stroke-linecap="round" />
<path d="M892,217.7 L895.5,224.3 L888.5,224.3Z" fill="#00ff00"/>
<path d="M894.6,190.6 L898.1,197.2 L891.1,197.2Z" fill="#00ff00"/>
<path d="M896,158.2 L899.5,164.8 L892.5,164.8Z" fill="#00ff00"/>
<path d="M900,120.2 L903.5,126.8 L896.5,126.8Z" fill="#00ff00"/>
<path d="M902,92.2 L905.5,98.8 L898.5,98.8Z" fill="#00ff00"/>
<path d="M905,68.2 L908.5,74.8 L901.5,74.8Z" fill="#00ff00"/>
<path d="M910.8,55.9 L914.3,62.5 L907.3,62.5Z" fill="#00ff00"/>
<path d="M915,48.8 L917.2,48.1 L919.5,47.9 L921.8,45.2 L924,44.3 L926.2,43.3 L928.3,43 L930.5,42.3 L932.6,42.1 L934.8,42.4 L936.9,43.6 L939,42.9 L941,42.1 L943.1,42.2 L945.2,42.9 L947.3,42 L949.3,41.4 L951.4,43.2 L953.5,42.7 L955.7,41.5 L958,41.4 L960.2,41.4 L962.4,43.5 L964.7,41.5 L966.9,42.7 L969,44.1" fill="none" stroke="#00ff00" stroke-width="6" stroke-linejoin="miter" stroke-miterlimit="2" stroke-linecap="square"/>
<path d="M628,49.7 L630,51.1 L632,51 L634,49.6 L636,51.3 L638,50.8 L640,49.4 L642,51.7 L644,50.1 L646,50.4 L648,50.7 L650,51.2 L652,50 L654,51.3 L656,51.6 L658,50.8 L660,51.4 L662,50.9 L664,51.3 L666,49.7 L668,50.1 L670,50.3 L672,49.3 L674,51.3 L676,50.5 L678,49.1 L680,50.2 L682,49.9 L684,49.5 L686,49.6 L688,50.5 L690,49.7 L692,51 L694,51" fill="none" stroke="#0033ff" stroke-width="6" stroke-linejoin="miter" stroke-miterlimit="2" stroke-linecap="square"/>
<path d="M693,52 L696,140 L702,210 L706,232 L712,240" fill="none" stroke="#0033ff" stroke-width="1.5" stroke-linejoin="round" stroke-linecap="round" />
<path d="M695,144.8 L698.5,138.2 L691.5,138.2Z" fill="#0033ff"/>
<path d="M697,160.8 L700.5,154.2 L693.5,154.2Z" fill="#0033ff"/>
<path d="M702,213.8 L705.5,207.2 L698.5,207.2Z" fill="#0033ff"/>
<path d="M705,225.8 L708.5,219.2 L701.5,219.2Z" fill="#0033ff"/>
<path d="M707,237.8 L710.5,231.2 L703.5,231.2Z" fill="#0033ff"/>
<path d="M712,240 L713.9,241.3 L715.7,242.8 L717.6,244.1 L719.4,245.2 L721.3,245.5 L723.1,247.6 L725,247.9 L727.1,248.4 L729.3,248.8 L731.4,250.2 L733.6,250.3 L735.7,251.2 L737.9,252.5 L740,253.4 L742,253.8 L744,253.1 L746,253.5 L748,254.2 L750,255.1 L752,255.9 L754,256.3 L756,256.9 L758,256.7 L760,257.2 L762,257.1 L764,257.5 L766,257.7 L768,258.7 L770,259.2 L772,259.3 L774,259.1 L776,259.3 L778,259.1 L780,260.2 L782,259.9 L784,260.3 L786,260.6 L788,259.8 L790,259.7 L792,260.1 L794,261.3 L796,261.2 L798,260.7 L800,261.4 L802,260.8 L804,261.7 L806,260.5 L808,261.6 L810,262 L812,261.2 L814,261.3 L816,260.8 L818,261.1 L820,261.1 L822,261.2 L824,260.9 L826,261.3 L828,261.1 L830,261.8 L832,261.7 L834,261.4 L836,262.6 L838,261.6 L840,262.1 L842,262.5 L844,262.2 L846,262.4 L848,261.8 L850,262.1 L852,260.7 L854,261.7 L856,260.9 L858,260.8 L860,261.4 L862,261.3 L864,260.5 L866,260.5 L868,260.2 L870,261.2 L872,260.6 L874,259.9 L876,260.3 L878,259.4 L880,259.6" fill="none" stroke="#0033ff" stroke-width="6" stroke-linejoin="miter" stroke-miterlimit="2" stroke-linecap="square"/>
<path d="M880,261 L880.6,234 L883.7,201.7 L886.9,164 L888,123 L890,74 L893,62 L894.7,57" fill="none" stroke="#0033ff" stroke-width="1.5" stroke-linejoin="round" stroke-linecap="round" />
<path d="M880.6,237.8 L884.1,231.2 L877.1,231.2Z" fill="#0033ff"/>
<path d="M883.7,205.5 L887.2,198.9 L880.2,198.9Z" fill="#0033ff"/>
<path d="M886.9,167.8 L890.4,161.2 L883.4,161.2Z" fill="#0033ff"/>
<path d="M888,126.8 L891.5,120.2 L884.5,120.2Z" fill="#0033ff"/>
<path d="M890,77.8 L893.5,71.2 L886.5,71.2Z" fill="#0033ff"/>
<path d="M893,65.8 L896.5,59.2 L889.5,59.2Z" fill="#0033ff"/>
<path d="M894.7,55.9 L896.6,56.3 L898.4,53.7 L900.3,53.3 L902.1,52.6 L904,51.7 L906,49.9 L908,49 L909.8,49 L911.6,51.2 L913.4,52.2 L915.4,52.8 L917.4,51.6 L919.4,51.5 L921.4,50.2 L923.5,49.4 L925.5,50.8 L927.6,50.5 L929.7,49.2 L931.7,48.3 L933.8,49.1 L935.9,48.8 L937.9,49.3 L940,48.6 L942.1,48.4 L944.1,48.5 L946.2,47.9 L948.3,47.1 L950.3,47.1 L952.4,49.1 L954.5,48.8 L956.6,47.5 L958.6,48.8 L960.7,47.9 L962.8,46.9 L964.8,48.6 L966.9,47.9 L969,48.6 L971.1,47.9 L973.2,46.3 L975.3,47.5 L977.5,47.7 L979.6,47.9 L981.7,46.4 L983.8,46.7 L985.9,47 L988,45.6" fill="none" stroke="#0033ff" stroke-width="6" stroke-linejoin="miter" stroke-miterlimit="2" stroke-linecap="square"/>
<path d="M913,56.9 L916.5,50.2 L909.5,50.2Z" fill="#0033ff"/>
<path d="M904,54.9 L907.5,48.2 L900.5,48.2Z" fill="#0033ff"/>
<path d="M628,35.2 L630,36.2 L632,35.8 L634,35.1 L636,34.2 L638,35.3 L640,35.1 L642,34.1 L644,33.8 L646,32.9 L648,32.1 L650,32.7 L652,33.1 L654,31.8 L656,33.4 L658,32 L660,31.9 L662,31.3 L664,33.5 L666,32.8 L668,33 L670,32.3 L672,31.3 L674,32.4 L676,33.2 L678,32.7 L680,35.1 L682,34.1 L684,34 L686,36 L688,34.7 L690,37 L692,37.1 L694,38.5 L696,39.2 L698,40.8 L700,41.2" fill="none" stroke="#00ffff" stroke-width="7" stroke-linejoin="miter" stroke-miterlimit="2" stroke-linecap="square"/>
<path d="M700,42 L705,69 L709,149 L712,186 L714,196" fill="none" stroke="#00ffff" stroke-width="1.5" stroke-linejoin="round" stroke-linecap="round" />
<path d="M703,65.5 L706.5,69 L703,72.5 L699.5,69Z" fill="#00ffff"/>
<path d="M705.7,78.5 L709.2,82 L705.7,85.5 L702.2,82Z" fill="#00ffff"/>
<path d="M709,147.2 L712.5,150.7 L709,154.2 L705.5,150.7Z" fill="#00ffff"/>
<path d="M712,183 L715.5,186.5 L712,190 L708.5,186.5Z" fill="#00ffff"/>
<path d="M714,196.1 L716,197.7 L718,199.1 L720,200.6 L722,199.9 L724,201.1 L726,200.7 L728,201.2 L730,201.4 L732,201.9 L734,201 L736,201.4 L738,202.1 L740,202.1 L742,202.5 L744,201.9 L746,203 L748,201.5 L750,202.8 L752,202.3 L754,201.8 L756,202.9 L758,202 L760,202.4 L762,202.6 L764,202.4 L766,202.5 L768,202.4 L770,203.8 L772,202.6 L774,202.8 L776,202.8 L778,204.2 L780,203.7 L782,204.2 L784,204.5 L786,203.8 L788,203.8 L790,203.8 L792,203.8 L794,204.6 L796,205.3 L798,204.8 L800,205.4 L802,205.8 L804,205.9 L806,205.9 L808,205.9 L810,205.4 L812,206 L814,207 L816,206.5 L818,207.1 L820,206.6 L822,207.3 L824,207 L826,208.1 L828,208.3 L830,207.2 L832,208.3 L834,207.4 L836,208.7 L838,207.5 L840,207.4 L842,208.6 L844,208.2 L846,207.2 L848,207.9 L850,208.5 L852,207.5 L854,208.4 L856,207.7 L858,207.9 L860,207.8 L862,207.3 L864.1,207.9 L866.1,208.2 L868.2,208.4 L870.2,208.3 L872.3,207.7 L874.3,208.5 L876.4,208 L878.4,209 L880.5,207.8 L882.5,208.9 L884.5,207.9 L886.6,208.7 L888.6,208.4 L890.7,208.6 L892.7,209 L894.8,209.2 L896.8,208 L898.9,209.5 L900.9,209.2 L903,208.3 L905,209.3" fill="none" stroke="#00ffff" stroke-width="6" stroke-linejoin="miter" stroke-miterlimit="2" stroke-linecap="square"/>
<path d="M905,209 L905.6,166 L908,137 L911,105 L913,80 L917.4,63.7" fill="none" stroke="#00ffff" stroke-width="1.5" stroke-linejoin="round" stroke-linecap="round" />
<path d="M905.6,162.5 L909.1,166 L905.6,169.5 L902.1,166Z" fill="#00ffff"/>
<path d="M908,133.5 L911.5,137 L908,140.5 L904.5,137Z" fill="#00ffff"/>
<path d="M911,101.5 L914.5,105 L911,108.5 L907.5,105Z" fill="#00ffff"/>
<path d="M913,76.5 L916.5,80 L913,83.5 L909.5,80Z" fill="#00ffff"/>
<path d="M917.4,63.1 L918.7,61.9 L920.1,59.1 L921.4,58 L923.5,56.8 L925.5,56.2 L927.6,56.5 L929.7,55.6 L931.7,55.7 L933.8,56.4 L935.9,54.1 L937.9,55.2 L940,53.5 L942.1,55 L944.1,54.6 L946.2,53 L948.3,54.5 L950.3,53.9 L952.4,52 L954.5,52.7 L956.6,53.3 L958.6,53.6 L960.7,51.5 L962.8,51.5 L964.8,52.6 L966.9,52.9 L969,50.4 L971.1,50.2 L973.2,51.8 L975.3,50.4 L977.5,50.4 L979.6,51.5 L981.7,50.9 L983.8,50.5 L985.9,50.9 L988,50.3" fill="none" stroke="#00ffff" stroke-width="7" stroke-linejoin="miter" stroke-miterlimit="2" stroke-linecap="square"/>
</g>
<line x1="938" y1="155.4" x2="972" y2="155.4" stroke="#000000" stroke-width="2"/>
<rect x="952" y="152.4" width="6" height="6" fill="#000000"/>
<text x="975.5" y="160" font-size="15.5" font-weight="bold" text-anchor="start" fill="#000" >20</text>
<text x="993.5" y="160" font-size="17" fill="#000">&#176;</text>
<text x="996" y="160" font-size="17.5" font-weight="normal" text-anchor="start" fill="#000" >C</text>
<line x1="938" y1="176.1" x2="972" y2="176.1" stroke="#ff0000" stroke-width="2"/>
<circle cx="955" cy="176.1" r="3" fill="#ff0000"/>
<text x="975.5" y="180.7" font-size="15.5" font-weight="bold" text-anchor="start" fill="#000" >40</text>
<text x="993.5" y="180.7" font-size="17" fill="#000">&#176;</text>
<text x="996" y="180.7" font-size="17.5" font-weight="normal" text-anchor="start" fill="#000" >C</text>
<line x1="938" y1="196.8" x2="972" y2="196.8" stroke="#00ff00" stroke-width="2"/>
<path d="M955,193 L958.5,199.6 L951.5,199.6Z" fill="#00ff00"/>
<text x="975.5" y="201.4" font-size="15.5" font-weight="bold" text-anchor="start" fill="#000" >50</text>
<text x="993.5" y="201.4" font-size="17" fill="#000">&#176;</text>
<text x="996" y="201.4" font-size="17.5" font-weight="normal" text-anchor="start" fill="#000" >C</text>
<line x1="938" y1="217.6" x2="972" y2="217.6" stroke="#0033ff" stroke-width="2"/>
<path d="M955,221.4 L958.5,214.8 L951.5,214.8Z" fill="#0033ff"/>
<text x="975.5" y="222.2" font-size="15.5" font-weight="bold" text-anchor="start" fill="#000" >60</text>
<text x="993.5" y="222.2" font-size="17" fill="#000">&#176;</text>
<text x="996" y="222.2" font-size="17.5" font-weight="normal" text-anchor="start" fill="#000" >C</text>
<line x1="938" y1="238.3" x2="972" y2="238.3" stroke="#00ffff" stroke-width="2"/>
<path d="M955,234.8 L958.5,238.3 L955,241.8 L951.5,238.3Z" fill="#00ffff"/>
<text x="975.5" y="242.9" font-size="15.5" font-weight="bold" text-anchor="start" fill="#000" >70</text>
<text x="993.5" y="242.9" font-size="17" fill="#000">&#176;</text>
<text x="996" y="242.9" font-size="17.5" font-weight="normal" text-anchor="start" fill="#000" >C</text>
<text x="88.5" y="713" font-size="16" font-weight="bold" text-anchor="middle" fill="#000" >0</text>
<line x1="111.3" y1="693.8" x2="111.3" y2="689.8" stroke="#000" stroke-width="2"/>
<line x1="134.2" y1="693.8" x2="134.2" y2="687.8" stroke="#000" stroke-width="2"/>
<text x="134.2" y="713" font-size="16" font-weight="bold" text-anchor="middle" fill="#000" >10</text>
<line x1="157" y1="693.8" x2="157" y2="689.8" stroke="#000" stroke-width="2"/>
<line x1="179.8" y1="693.8" x2="179.8" y2="687.8" stroke="#000" stroke-width="2"/>
<text x="179.8" y="713" font-size="16" font-weight="bold" text-anchor="middle" fill="#000" >20</text>
<line x1="202.7" y1="693.8" x2="202.7" y2="689.8" stroke="#000" stroke-width="2"/>
<line x1="225.5" y1="693.8" x2="225.5" y2="687.8" stroke="#000" stroke-width="2"/>
<text x="225.5" y="713" font-size="16" font-weight="bold" text-anchor="middle" fill="#000" >30</text>
<line x1="248.3" y1="693.8" x2="248.3" y2="689.8" stroke="#000" stroke-width="2"/>
<line x1="271.2" y1="693.8" x2="271.2" y2="687.8" stroke="#000" stroke-width="2"/>
<text x="271.2" y="713" font-size="16" font-weight="bold" text-anchor="middle" fill="#000" >40</text>
<line x1="294" y1="693.8" x2="294" y2="689.8" stroke="#000" stroke-width="2"/>
<line x1="316.9" y1="693.8" x2="316.9" y2="687.8" stroke="#000" stroke-width="2"/>
<text x="316.9" y="713" font-size="16" font-weight="bold" text-anchor="middle" fill="#000" >50</text>
<line x1="339.7" y1="693.8" x2="339.7" y2="689.8" stroke="#000" stroke-width="2"/>
<line x1="362.5" y1="693.8" x2="362.5" y2="687.8" stroke="#000" stroke-width="2"/>
<text x="362.5" y="713" font-size="16" font-weight="bold" text-anchor="middle" fill="#000" >60</text>
<line x1="385.4" y1="693.8" x2="385.4" y2="689.8" stroke="#000" stroke-width="2"/>
<line x1="408.2" y1="693.8" x2="408.2" y2="687.8" stroke="#000" stroke-width="2"/>
<text x="408.2" y="713" font-size="16" font-weight="bold" text-anchor="middle" fill="#000" >70</text>
<line x1="431" y1="693.8" x2="431" y2="689.8" stroke="#000" stroke-width="2"/>
<line x1="453.9" y1="693.8" x2="453.9" y2="687.8" stroke="#000" stroke-width="2"/>
<text x="453.9" y="713" font-size="16" font-weight="bold" text-anchor="middle" fill="#000" >80</text>
<line x1="476.7" y1="693.8" x2="476.7" y2="689.8" stroke="#000" stroke-width="2"/>
<text x="499.5" y="713" font-size="16" font-weight="bold" text-anchor="middle" fill="#000" >90</text>
<text x="81" y="697.8" font-size="16" font-weight="bold" text-anchor="end" fill="#000" >0.00</text>
<line x1="88.5" y1="667.8" x2="92.5" y2="667.8" stroke="#000" stroke-width="2"/>
<line x1="88.5" y1="642.1" x2="94.5" y2="642.1" stroke="#000" stroke-width="2"/>
<text x="81" y="646.4" font-size="16" font-weight="bold" text-anchor="end" fill="#000" >0.05</text>
<line x1="88.5" y1="616.4" x2="92.5" y2="616.4" stroke="#000" stroke-width="2"/>
<line x1="88.5" y1="590.7" x2="94.5" y2="590.7" stroke="#000" stroke-width="2"/>
<text x="81" y="595" font-size="16" font-weight="bold" text-anchor="end" fill="#000" >0.10</text>
<line x1="88.5" y1="565" x2="92.5" y2="565" stroke="#000" stroke-width="2"/>
<line x1="88.5" y1="539.3" x2="94.5" y2="539.3" stroke="#000" stroke-width="2"/>
<text x="81" y="543.6" font-size="16" font-weight="bold" text-anchor="end" fill="#000" >0.15</text>
<line x1="88.5" y1="513.6" x2="92.5" y2="513.6" stroke="#000" stroke-width="2"/>
<line x1="88.5" y1="487.9" x2="94.5" y2="487.9" stroke="#000" stroke-width="2"/>
<text x="81" y="492.2" font-size="16" font-weight="bold" text-anchor="end" fill="#000" >0.20</text>
<line x1="88.5" y1="462.2" x2="92.5" y2="462.2" stroke="#000" stroke-width="2"/>
<line x1="88.5" y1="436.5" x2="94.5" y2="436.5" stroke="#000" stroke-width="2"/>
<text x="81" y="440.8" font-size="16" font-weight="bold" text-anchor="end" fill="#000" >0.25</text>
<line x1="88.5" y1="410.8" x2="92.5" y2="410.8" stroke="#000" stroke-width="2"/>
<text x="81" y="389.4" font-size="16" font-weight="bold" text-anchor="end" fill="#000" >0.30</text>
<text x="293.5" y="748" font-size="22.4" font-weight="bold" text-anchor="middle" fill="#000" >Time (s)</text>
<text x="0" y="0" font-size="23.6" font-weight="bold" text-anchor="middle" fill="#000" transform="translate(28,552.5) rotate(-90)">Resistance (G&#937;)</text>
<text x="0" y="0" font-size="32.4" font-weight="bold" fill="#000" transform="translate(7.70,428.50) scale(0.840,1)">c</text>
<text x="0" y="0" font-size="34.3" font-weight="bold" fill="#000" transform="translate(24.40,427.80) scale(0.840,1)">)</text>
<g clip-path="url(#clipC)">
<path d="M106,411.5 L120,411.5 L135,410.5 L150,409.5 L152.5,410" fill="none" stroke="#000000" stroke-width="6" stroke-linejoin="round" stroke-linecap="round" />
<path d="M103.5,406.9h5v5h-5zM107,409h5v5h-5zM110.5,406.3h5v5h-5zM114,411.6h5v5h-5zM117.5,406.9h5v5h-5zM120.5,409.2h5v5h-5zM123.5,412h5v5h-5zM126.5,407.6h5v5h-5zM129.5,411.9h5v5h-5zM132.5,409.9h5v5h-5zM135.5,408.2h5v5h-5zM138.5,408.6h5v5h-5zM141.5,408.1h5v5h-5zM144.5,406.1h5v5h-5zM147.5,411h5v5h-5zM150,406.7h5v5h-5z" fill="#000000"/>
<path d="M154,410 L154,480 L157,546 L160,548" fill="none" stroke="#000000" stroke-width="1.5" stroke-linejoin="round" stroke-linecap="round" />
<rect x="151.2" y="467.5" width="5" height="5" fill="#000000"/>
<rect x="152" y="505.5" width="5" height="5" fill="#000000"/>
<rect x="152.5" y="527.5" width="5" height="5" fill="#000000"/>
<rect x="153.5" y="537.5" width="5" height="5" fill="#000000"/>
<path d="M157,547.6 L159,546.7 L161,547.8 L163,547.8 L165,548.6 L167,548.3 L169,549.2 L171,548.5 L173,549.8 L175,549.4 L177.1,549.3 L179.2,549.6 L181.2,550.2 L183.3,549.6 L185.4,550.2 L187.5,549.9 L189.6,550.1 L191.7,550.4 L193.8,550.7 L195.8,550.9 L197.9,551.7 L200,551.4 L202.1,552 L204.2,552.1 L206.3,552.1 L208.5,552.2 L210.6,551.8 L212.7,551.9 L214.8,552.2 L216.9,551.9 L219,551.4 L221.2,551.9 L223.3,552 L225.4,551.6 L227.5,551.5" fill="none" stroke="#000000" stroke-width="5" stroke-linejoin="miter" stroke-miterlimit="2" stroke-linecap="square"/>
<path d="M227.5,552 L228,500 L229,445" fill="none" stroke="#000000" stroke-width="1.5" stroke-linejoin="round" stroke-linecap="round" />
<rect x="225.5" y="511.5" width="5" height="5" fill="#000000"/>
<rect x="226" y="487.5" width="5" height="5" fill="#000000"/>
<path d="M229,445.2 L229.3,443.5 L229.6,440.6 L229.9,438.9 L230.1,437.1 L230.4,434.3 L230.7,432.5 L231,430.4 L231.4,428.6 L231.9,425.3 L232.3,423.5 L232.8,422.8 L233.2,420.4 L233.7,417.6 L234.1,416.4 L234.6,413.5 L235,411.8" fill="none" stroke="#000000" stroke-width="5" stroke-linejoin="miter" stroke-miterlimit="2" stroke-linecap="square"/>
<path d="M237,411 L250,410.5 L270,410.5 L282,409" fill="none" stroke="#000000" stroke-width="6" stroke-linejoin="round" stroke-linecap="round" />
<path d="M234.5,407h5v5h-5zM237.8,409h5v5h-5zM241,406.4h5v5h-5zM244.2,410.6h5v5h-5zM247.5,407.7h5v5h-5zM250.8,406.7h5v5h-5zM254.2,411.2h5v5h-5zM257.5,410.3h5v5h-5zM260.8,410.9h5v5h-5zM264.2,409.3h5v5h-5zM267.5,405.5h5v5h-5zM270.5,406.7h5v5h-5zM273.5,405.2h5v5h-5zM276.5,409.2h5v5h-5zM279.5,402.6h5v5h-5z" fill="#000000"/>
<path d="M89,448.8 L91.1,447.4 L93.2,448.4 L95.3,448.4 L97.4,449.5 L99.5,448.5 L101.6,448.8 L103.7,449.2 L105.8,449 L107.9,450.2 L110,450.3 L112,449.9 L114,448.6 L116,450.5 L118,449.6 L120,449.7 L122,449.6 L124,449.5 L126,450.4 L128,449 L130,448.8 L132,450.4 L134,448.9 L136,448.9 L138,449.2 L140,450 L142,448.9 L144,448.1 L146,448.6 L148,448.5" fill="none" stroke="#cc1a1a" stroke-width="6" stroke-linejoin="miter" stroke-miterlimit="2" stroke-linecap="square"/>
<path d="M147,449 L147,500 L147.5,576" fill="none" stroke="#cc1a1a" stroke-width="1.5" stroke-linejoin="round" stroke-linecap="round" />
<circle cx="147" cy="485" r="2.5" fill="#cc1a1a"/>
<circle cx="147" cy="533" r="2.5" fill="#cc1a1a"/>
<circle cx="147.5" cy="552" r="2.5" fill="#cc1a1a"/>
<path d="M147.5,565.4 L148,568.6 L148.5,569.5 L149,572.3 L149.5,574.5 L150,576.3 L151.7,577.1 L153.3,578.5 L155,580.3 L156.7,582 L158.3,582.9 L160,584.1 L162,584.1 L164,584.4 L166,585.1 L168,584.9 L170,585.3 L172,585.7 L174,585.9 L176,585.4 L178,585.9 L180,586.8 L182.1,586.6 L184.2,587 L186.2,586 L188.3,586.3 L190.4,586.7 L192.5,587.1 L194.5,586.3 L196.6,587.2 L198.7,586.7 L200.8,586.6 L202.8,587.4 L204.9,586.4 L207,587.6" fill="none" stroke="#cc1a1a" stroke-width="5" stroke-linejoin="miter" stroke-miterlimit="2" stroke-linecap="square"/>
<path d="M207.8,587 L208,540 L209,470" fill="none" stroke="#cc1a1a" stroke-width="1.5" stroke-linejoin="round" stroke-linecap="round" />
<circle cx="208" cy="569" r="2.5" fill="#cc1a1a"/>
<circle cx="208.5" cy="514" r="2.5" fill="#cc1a1a"/>
<circle cx="208.5" cy="484" r="2.5" fill="#cc1a1a"/>
<path d="M208,471.1 L208.3,468.1 L208.7,465.9 L209,464.1 L209.3,462.6 L209.7,461.2 L210,457.8 L211,455.4 L212,453.7 L213,451 L214,450.3 L216,451.1 L218,449 L220,450.2 L222,448.8 L224,450.4 L226,449.4 L228,448.8 L230,447.9 L232,448.2 L234,450.1 L236,448.4 L238,449.5 L240,449.4 L242,449.2 L244,449.9 L246,448.5 L248,449.9 L250,448.5 L252,448.8 L254,449.8 L256,448.6 L258,448.4 L260,449.2 L262,449.5 L264,447.9 L266,449.5 L268,449.2" fill="none" stroke="#cc1a1a" stroke-width="6" stroke-linejoin="miter" stroke-miterlimit="2" stroke-linecap="square"/>
<path d="M90,613.4 L92,615.1 L94,612.9 L96,614.5 L98,615.9 L100,613.2 L102,615.8 L104,614.7 L106,615.6 L108,612.6 L110,615.3 L112,614.6 L114,615.4 L116,615.1 L118,617.7 L120.3,616.9 L122.7,617.5 L125,617.7" fill="none" stroke="#1f1fff" stroke-width="8" stroke-linejoin="miter" stroke-miterlimit="2" stroke-linecap="square"/>
<path d="M96,608.1 L99.5,614.8 L92.5,614.8Z" fill="#1f1fff"/>
<path d="M104,608.1 L107.5,614.8 L100.5,614.8Z" fill="#1f1fff"/>
<path d="M112,608.1 L115.5,614.8 L108.5,614.8Z" fill="#1f1fff"/>
<path d="M125.4,615 L125.5,671" fill="none" stroke="#1f1fff" stroke-width="2" stroke-linejoin="round" stroke-linecap="round" />
<path d="M125.3,639.1 L128.8,645.8 L121.8,645.8Z" fill="#1f1fff"/>
<path d="M125.3,658.1 L128.8,664.8 L121.8,664.8Z" fill="#1f1fff"/>
<path d="M125.8,663.1 L129.3,669.8 L122.3,669.8Z" fill="#1f1fff"/>
<path d="M127,671.1 L129,671.6 L131,673.2 L133,674.1 L135,673.2 L137,674.2 L139,674.5 L141,674.9 L143,676.1 L145.1,676.5 L147.2,676.5 L149.2,676.3 L151.3,677.2 L153.4,676.4 L155.5,677.2 L157.5,677.4 L159.6,677.1 L161.7,678 L163.8,678 L165.8,678.3 L167.9,678.2 L170,679.2 L172.1,678.6 L174.1,678.6 L176.2,679.9 L178.3,679.3 L180.4,679.9 L182.4,680.2 L184.5,680.4 L186.6,680.7 L188.6,679.8 L190.7,680.4 L192.8,680.1 L194.9,681 L196.9,680.5 L199,680.7 L201,680.7 L203.1,681.5 L205.1,681.2 L207.2,681.8 L209.2,681.5 L211.2,681.6 L213.3,681.8 L215.3,681.4 L217.4,681.6 L219.4,681.5 L221.4,681.5 L223.5,682.5 L225.5,682.2 L227.6,682.1 L229.6,682.4 L231.6,681.8 L233.7,682.9 L235.7,682.4 L237.8,682.2 L239.8,682.9 L241.8,682.7 L243.9,683 L245.9,682.3 L248,683.6 L250,683.5 L252,682.5 L254,683.1 L256,682.4 L258,682.5 L260,682.7 L262,682.5 L264,683.8 L266,683.1 L268,683.3 L270,683.5 L272,682.9 L274,683.2 L276,683.5 L278,683.4 L280,683 L282,682.7 L284,683.9 L286,684 L288,684.1 L290,682.9 L292,683 L294,683 L296,683.9 L298,683.4 L300,683.8 L302,683.9 L304.1,683.5 L306.1,683.1 L308.2,684.3 L310.2,683.7 L312.2,684 L314.3,683 L316.3,683.8 L318.3,684.1 L320.4,683.5 L322.4,683.6 L324.5,684.2 L326.5,683.7 L328.5,684 L330.6,683.6 L332.6,683.2 L334.7,683.9 L336.7,684 L338.7,684.2 L340.8,683.7 L342.8,684.3 L344.8,684.4 L346.9,683.4 L348.9,683.4 L351,684.4 L353,684.5" fill="none" stroke="#1f1fff" stroke-width="6" stroke-linejoin="miter" stroke-miterlimit="2" stroke-linecap="square"/>
<path d="M353.5,684 L355,660" fill="none" stroke="#1f1fff" stroke-width="1.5" stroke-linejoin="round" stroke-linecap="round" />
<path d="M354,668.7 L357,674.4 L351,674.4Z" fill="#1f1fff"/>
<path d="M354.5,661.7 L357.5,667.4 L351.5,667.4Z" fill="#1f1fff"/>
<path d="M355,654.7 L358,660.4 L352,660.4Z" fill="#1f1fff"/>
<path d="M355.5,655.2 L356.5,655.3 L357.5,653.3 L358.5,648.6 L359.5,649 L360.4,646.6 L361.2,644.5 L362.1,640.5 L362.9,641 L363.8,637.6 L364.6,636.9 L365.5,634.1 L367.2,632.8 L369,630.7 L371,629.5 L373,630.5 L375,631.4 L377,631.2 L379,630.2 L381,626.8 L383,627.4 L385,627 L386.6,624 L388.2,621.8 L389.8,622.5 L391.4,620.6 L393,620.4 L395.3,617.9 L397.7,617.1 L400,618.2" fill="none" stroke="#1f1fff" stroke-width="6" stroke-linejoin="miter" stroke-miterlimit="2" stroke-linecap="square"/>
</g>
<text x="373" y="404.6" font-size="14.7" font-weight="bold" text-anchor="middle" fill="#000" >Thickness</text>
<line x1="328" y1="424.6" x2="367.5" y2="424.6" stroke="#000000" stroke-width="2"/>
<rect x="346" y="422.6" width="4" height="4" fill="#000000"/>
<text x="371" y="430" font-size="16.3" font-weight="bold" text-anchor="start" fill="#000" >8 &#181;m</text>
<line x1="328" y1="445.6" x2="367.5" y2="445.6" stroke="#cc1a1a" stroke-width="2"/>
<circle cx="348" cy="445.6" r="2" fill="#cc1a1a"/>
<text x="371" y="451" font-size="16.3" font-weight="bold" text-anchor="start" fill="#000" >14 &#181;m</text>
<line x1="328" y1="466.6" x2="367.5" y2="466.6" stroke="#1f1fff" stroke-width="2"/>
<path d="M348,464.4 L350,468.2 L346,468.2Z" fill="#1f1fff"/>
<text x="371" y="472" font-size="16.3" font-weight="bold" text-anchor="start" fill="#000" >25 &#181;m</text>
<rect x="615.5" y="395.8" width="48" height="306.7" fill="#ff0000"/>
<rect x="677" y="666" width="48" height="36.5" fill="#00ff00"/>
<rect x="738.5" y="681.8" width="48" height="20.7" fill="#0000ff"/>
<rect x="800" y="653.9" width="48" height="48.6" fill="#00ffff"/>
<rect x="861" y="637" width="48" height="65.5" fill="#ff00ff"/>
<rect x="922.7" y="652.1" width="48" height="50.4" fill="#ffff00"/>
<rect x="983.5" y="664.4" width="48" height="38.1" fill="#808000"/>
<line x1="609" y1="702.5" x2="603" y2="702.5" stroke="#000" stroke-width="2"/>
<text x="598" y="707.4" font-size="16.5" font-weight="bold" text-anchor="end" fill="#000" >0</text>
<line x1="609" y1="680" x2="605" y2="680" stroke="#000" stroke-width="2"/>
<line x1="609" y1="657.5" x2="603" y2="657.5" stroke="#000" stroke-width="2"/>
<text x="598" y="662.4" font-size="16.5" font-weight="bold" text-anchor="end" fill="#000" >10</text>
<line x1="609" y1="634.9" x2="605" y2="634.9" stroke="#000" stroke-width="2"/>
<line x1="609" y1="612.4" x2="603" y2="612.4" stroke="#000" stroke-width="2"/>
<text x="598" y="617.3" font-size="16.5" font-weight="bold" text-anchor="end" fill="#000" >20</text>
<line x1="609" y1="589.9" x2="605" y2="589.9" stroke="#000" stroke-width="2"/>
<line x1="609" y1="567.4" x2="603" y2="567.4" stroke="#000" stroke-width="2"/>
<text x="598" y="572.3" font-size="16.5" font-weight="bold" text-anchor="end" fill="#000" >30</text>
<line x1="609" y1="544.9" x2="605" y2="544.9" stroke="#000" stroke-width="2"/>
<line x1="609" y1="522.3" x2="603" y2="522.3" stroke="#000" stroke-width="2"/>
<text x="598" y="527.2" font-size="16.5" font-weight="bold" text-anchor="end" fill="#000" >40</text>
<line x1="609" y1="499.8" x2="605" y2="499.8" stroke="#000" stroke-width="2"/>
<line x1="609" y1="477.3" x2="603" y2="477.3" stroke="#000" stroke-width="2"/>
<text x="598" y="482.2" font-size="16.5" font-weight="bold" text-anchor="end" fill="#000" >50</text>
<line x1="609" y1="454.8" x2="605" y2="454.8" stroke="#000" stroke-width="2"/>
<line x1="609" y1="432.3" x2="603" y2="432.3" stroke="#000" stroke-width="2"/>
<text x="598" y="437.2" font-size="16.5" font-weight="bold" text-anchor="end" fill="#000" >60</text>
<line x1="609" y1="409.7" x2="605" y2="409.7" stroke="#000" stroke-width="2"/>
<line x1="609" y1="387.2" x2="603" y2="387.2" stroke="#000" stroke-width="2"/>
<text x="598" y="392.1" font-size="16.5" font-weight="bold" text-anchor="end" fill="#000" >70</text>
<line x1="639.5" y1="702.5" x2="639.5" y2="708.5" stroke="#000" stroke-width="2"/>
<line x1="670.2" y1="702.5" x2="670.2" y2="706.5" stroke="#000" stroke-width="2"/>
<text x="0" y="0" font-size="18" font-weight="bold" text-anchor="end" fill="#000" transform="translate(657.5,724) rotate(-20)">Hydrazine</text>
<line x1="701" y1="702.5" x2="701" y2="708.5" stroke="#000" stroke-width="2"/>
<line x1="731.8" y1="702.5" x2="731.8" y2="706.5" stroke="#000" stroke-width="2"/>
<text x="0" y="0" font-size="18" font-weight="bold" text-anchor="end" fill="#000" transform="translate(719,724) rotate(-20)">Ammonia</text>
<line x1="762.5" y1="702.5" x2="762.5" y2="708.5" stroke="#000" stroke-width="2"/>
<line x1="793.2" y1="702.5" x2="793.2" y2="706.5" stroke="#000" stroke-width="2"/>
<text x="0" y="0" font-size="18" font-weight="bold" text-anchor="end" fill="#000" transform="translate(780.5,724) rotate(-20)">Anilin</text>
<line x1="824" y1="702.5" x2="824" y2="708.5" stroke="#000" stroke-width="2"/>
<line x1="854.8" y1="702.5" x2="854.8" y2="706.5" stroke="#000" stroke-width="2"/>
<text x="0" y="0" font-size="18" font-weight="bold" text-anchor="end" fill="#000" transform="translate(842,724) rotate(-20)">t-Butyiamine</text>
<line x1="885" y1="702.5" x2="885" y2="708.5" stroke="#000" stroke-width="2"/>
<line x1="915.8" y1="702.5" x2="915.8" y2="706.5" stroke="#000" stroke-width="2"/>
<text x="0" y="0" font-size="18" font-weight="bold" text-anchor="end" fill="#000" transform="translate(903,724) rotate(-20)">n-Butylamine</text>
<line x1="946.7" y1="702.5" x2="946.7" y2="708.5" stroke="#000" stroke-width="2"/>
<line x1="977.5" y1="702.5" x2="977.5" y2="706.5" stroke="#000" stroke-width="2"/>
<text x="0" y="0" font-size="18" font-weight="bold" text-anchor="end" fill="#000" transform="translate(964.7,724) rotate(-20)">Diethylamine</text>
<line x1="1007.5" y1="702.5" x2="1007.5" y2="708.5" stroke="#000" stroke-width="2"/>
<text x="0" y="0" font-size="18" font-weight="bold" text-anchor="end" fill="#000" transform="translate(1025.5,724) rotate(-20)">Triethylamine</text>
<text x="850" y="436.2" font-size="18" font-weight="bold" text-anchor="middle" fill="#000" >20ppm target gases</text>
<text x="0" y="0" font-size="26.5" font-weight="bold" text-anchor="middle" fill="#000" transform="translate(560.5,559.5) rotate(-90)">Response (%)</text>
<text x="0" y="0" font-size="34.2" font-weight="bold" fill="#000" transform="translate(537.50,419.80) scale(0.953,1)">d</text>
<text x="0" y="0" font-size="33.9" font-weight="bold" fill="#000" transform="translate(559.30,418.60) scale(0.850,1)">)</text>
<rect x="90.5" y="14" width="407.5" height="303" fill="none" stroke="#000" stroke-width="2"/>
<rect x="627.5" y="13.5" width="408.5" height="303" fill="none" stroke="#000" stroke-width="2"/>
<rect x="88.5" y="385" width="411" height="308.8" fill="none" stroke="#000" stroke-width="2"/>
<rect x="609" y="387.2" width="429" height="315.3" fill="none" stroke="#000" stroke-width="2"/>
</svg>
</body></html>
